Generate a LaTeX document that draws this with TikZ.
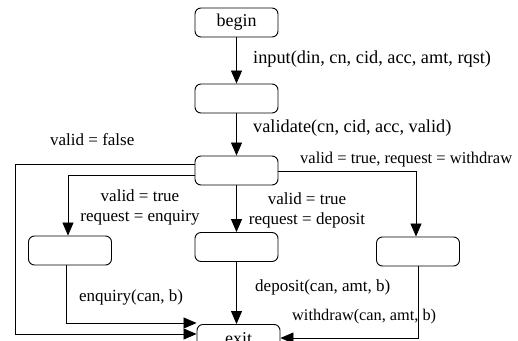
\documentclass[tikz,border=0pt]{standalone}
\usepackage{fontspec}
\setmainfont{Liberation Serif}
\usetikzlibrary{arrows.meta}
\begin{document}
\begin{tikzpicture}[x=1pt,y=-1pt,
  st/.style={draw,rounded corners=6pt,minimum width=83pt,minimum height=29pt,inner sep=0pt,line width=0.9pt},
  ar/.style={line width=0.8pt,-{Triangle[length=13pt,width=11pt]}},
  lb/.style={font=\fontsize{17}{20}\selectfont,inner sep=0pt,align=center},
  lbb/.style={font=\fontsize{18.3}{21}\selectfont,inner sep=0pt,align=center}]
\useasboundingbox (0,0) rectangle (518,340);
\node[st] (b) at (236.5,22.5) {\fontsize{18}{20}\selectfont begin};
\node[st] (s1) at (236.5,98.5) {};
\node[st] (s2) at (236.5,170.5) {};
\node[st] (enq) at (70,250.5) {};
\node[st] (dep) at (236.5,247) {};
\node[st] (wd) at (418,251.5) {};
\node[st,anchor=north] (ex) at (238.5,324) {\raisebox{-7pt}{\fontsize{18}{20}\selectfont exit}};
\draw[ar] (b) -- (s1);
\draw[ar] (s1) -- (s2);
\draw[ar] (s2) -- (dep);
\draw[ar] (dep.south) -- (dep.south |- ex.north);
\coordinate (l1) at (15,164);
\coordinate (l2) at (15,334);
\draw[ar] (s2.west |- l1) -- (l1) -- (l2) -- (l2 -| ex.west);
\coordinate (e1) at (68,175);
\draw[ar] (s2.west |- e1) -- (e1) -- (enq.north -| e1);
\coordinate (w1) at (416,171);
\draw[ar] (s2.east |- w1) -- (w1) -- (wd.north -| w1);
\coordinate (q1) at (66,323);
\draw[ar] (enq.south -| q1) -- (q1) -- (q1 -| ex.west);
\coordinate (r1) at (418,338);
\draw[ar] (wd.south -| r1) -- (r1) -- (r1 -| ex.east);
\node[lbb,anchor=west] (t1) at (253,59) {input(din, cn, cid, acc, amt, rqst)};
\node[lbb,anchor=west] (t2) at (253,128) {validate(cn, cid, acc, valid)};
\node[lb,anchor=west] (t3) at (50,140) {valid = false};
\node[lb,anchor=west,font=\fontsize{16.5}{20}\selectfont] (t4) at (300,160) {valid = true, request = withdraw};
\node[lb] (t5) at (140,207) {valid = true\\request = enquiry};
\node[lb] (t6) at (307,210) {valid = true\\request = deposit};
\node[lb,anchor=west] (t7) at (79,297) {enquiry(can, b)};
\node[lb,anchor=west] (t8) at (255,287) {deposit(can, amt, b)};
\node[lb,anchor=west,font=\fontsize{16.3}{20}\selectfont] (t9) at (292,317) {withdraw(can, amt, b)};
\end{tikzpicture}
\end{document}
